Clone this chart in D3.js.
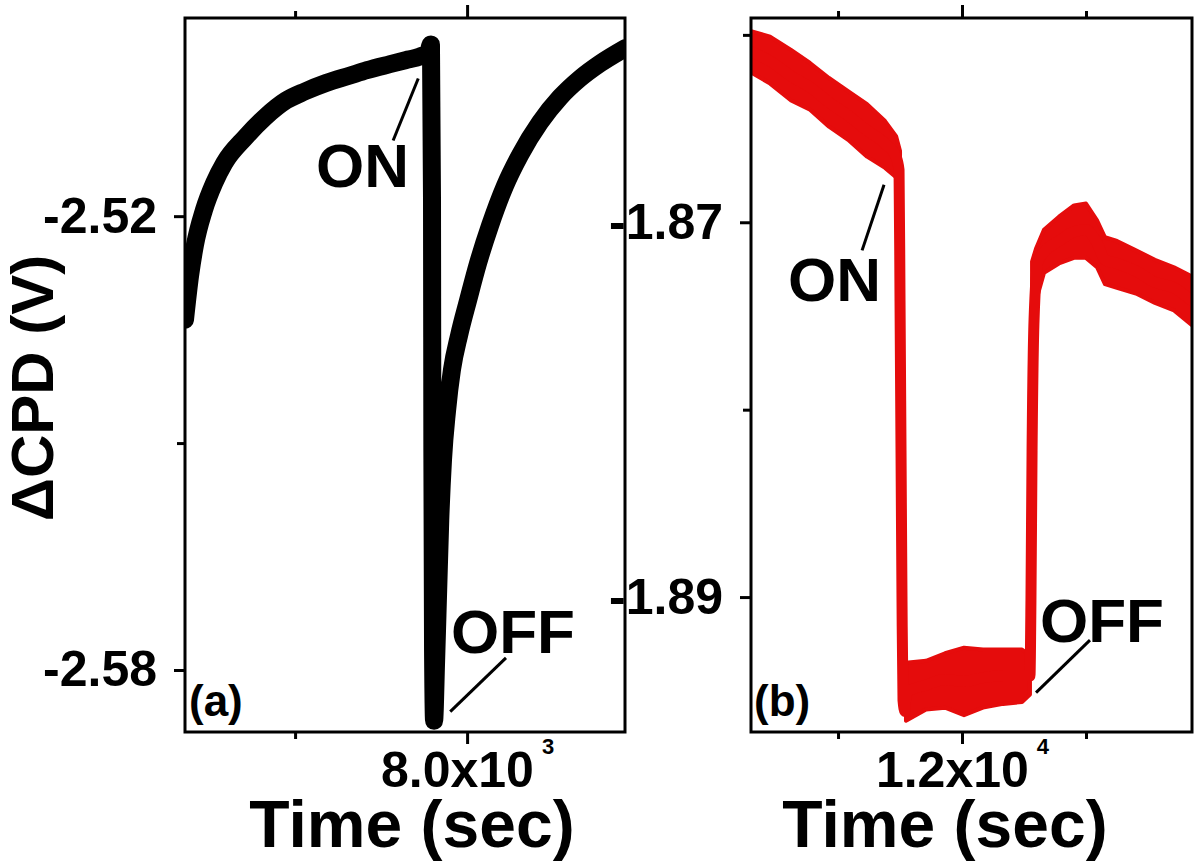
<!DOCTYPE html>
<html>
<head>
<meta charset="utf-8">
<title>CPD light on / off</title>
<script src="https://d3js.org/d3.v7.min.js"></script>
<style>
  body { margin: 0; background: #fff; }
  svg { display: block; font-family: "Liberation Sans", Arial, sans-serif; font-weight: bold; }
  .frame { fill: none; stroke: #000; stroke-width: 3; }
  .tick line { stroke: #000; stroke-width: 3; }
  .tick text { font-size: 50px; fill: #000; font-weight: bold; }
  .note { font-size: 62px; }
  .title { font-size: 66px; }
  .tag { font-size: 44px; }
  .pointer { stroke: #000; stroke-width: 3; }
</style>
</head>
<body>
<div id="chart"></div>
<script>
// panel (a): dCPD trace, time in s, potential in V
const timeA = [7180, 7195, 7209, 7235, 7265, 7294, 7355, 7413, 7474, 7529,
               7590, 7660, 7709, 7776, 7828, 7863, 7887, 7895, 7898, 7899,
               7901, 7904, 7910, 7916, 7922, 7930, 7942, 7956, 7977, 8003,
               8032, 8067, 8110, 8154, 8212, 8270, 8328, 8387, 8459];
const cpdA  = [-2.5337, -2.5278, -2.5238, -2.5192, -2.5156, -2.5130, -2.5096, -2.5069, -2.5047, -2.5035,
               -2.5024, -2.5014, -2.5007, -2.4999, -2.4993, -2.4989, -2.4983, -2.4973, -2.5179, -2.5509,
               -2.5774, -2.5867, -2.5787, -2.5694, -2.5602, -2.5522, -2.5456, -2.5403, -2.5357, -2.5311,
               -2.5262, -2.5212, -2.5160, -2.5119, -2.5076, -2.5043, -2.5018, -2.4998, -2.4978];

// panel (b): mean trace
const timeB = [10298, 10452, 10621, 10774, 10927, 11081, 11234, 11379, 11468, 11492,
               11500, 11508, 11516, 11524, 11540, 11548, 11710, 11863, 12016, 12169,
               12331, 12484, 12548, 12556, 12565, 12581, 12613, 12661, 12782, 12903,
               13000, 13089, 13153, 13250, 13403, 13556, 13710, 13855];
const cpdB  = [-1.8609, -1.8614, -1.8622, -1.8628, -1.8636, -1.8643, -1.8651, -1.8658, -1.8665, -1.8672,
               -1.8742, -1.8822, -1.8902, -1.8955, -1.8961, -1.8951, -1.8947, -1.8944, -1.8945, -1.8943,
               -1.8942, -1.8942, -1.8942, -1.8902, -1.8822, -1.8752, -1.8721, -1.8716, -1.8710, -1.8705,
               -1.8704, -1.8711, -1.8720, -1.8722, -1.8726, -1.8732, -1.8735, -1.8742];

// panel (b): noise envelope (null = gap)
const noiseT  = [10298, 10452, 10621, 10774, 10927, 11081, 11234, 11379, 11468, 11500, null,
                 11548, 11710, 11863, 12016, 12169, 12331, 12484, 12548, null,
                 12565, 12597, 12661, 12782, 12903, 13000, 13089, 13153, 13250, 13403, 13556, 13710, 13855];
const noiseHi = [-1.8598, -1.8601, -1.8608, -1.8615, -1.8623, -1.8630, -1.8637, -1.8646, -1.8654, -1.8662, null,
                 -1.8935, -1.8934, -1.8930, -1.8927, -1.8928, -1.8928, -1.8928, -1.8931, null,
                 -1.8721, -1.8714, -1.8704, -1.8697, -1.8691, -1.8690, -1.8699, -1.8708, -1.8710, -1.8715, -1.8720, -1.8724, -1.8729];
const noiseLo = [-1.8620, -1.8626, -1.8635, -1.8640, -1.8649, -1.8656, -1.8665, -1.8671, -1.8676, -1.8678, null,
                 -1.8966, -1.8960, -1.8959, -1.8963, -1.8959, -1.8957, -1.8956, -1.8952, null,
                 -1.8752, -1.8742, -1.8727, -1.8722, -1.8719, -1.8719, -1.8724, -1.8733, -1.8735, -1.8738, -1.8743, -1.8747, -1.8755];

// ticks
const xMajorA = [8000], xMinorA = [7500];
const yMajorA = [-2.52, -2.58], yMinorA = [-2.55];
const xMajorB = [12000], xMinorB = [11000, 13000];
const yMajorB = [-1.87, -1.89], yMinorB = [-1.86, -1.88];

const W = 1200, H = 863;
const plotTop = 18, plotBottom = 732;

const svg = d3.select("#chart").append("svg")
    .attr("width", W)
    .attr("height", H);

const xA = d3.scaleLinear().domain([7180, 8459]).range([185, 625]);
const yA = d3.scaleLinear().domain([-2.5882, -2.4938]).range([plotBottom, plotTop]);
const xB = d3.scaleLinear().domain([10298, 13855]).range([751, 1192]);
const yB = d3.scaleLinear().domain([-1.8972, -1.8591]).range([plotBottom, plotTop]);

function clip(x, id) {
    const [x0, x1] = x.range();
    svg.append("clipPath").attr("id", id)
        .append("rect").attr("x", x0).attr("y", plotTop)
        .attr("width", x1 - x0).attr("height", plotBottom - plotTop);
}

function axes(x, y, xMajor, xMinor, yMajor, yMinor, xLabel) {
    const [x0, x1] = x.range();
    // bottom
    const gb = svg.append("g").attr("transform", `translate(0,${plotBottom})`);
    gb.append("g").call(d3.axisBottom(x).tickValues(xMinor).tickSize(7).tickFormat(""));
    const gbm = gb.append("g").call(d3.axisBottom(x).tickValues(xMajor).tickSize(12).tickFormat(""));
    gbm.selectAll(".tick text").remove();
    gbm.selectAll(".tick").append("text")
        .attr("y", 55)
        .attr("text-anchor", "middle")
        .each(function (d) {
            const lab = xLabel(d);
            const t = d3.select(this);
            t.append("tspan").text(lab[0]);
            t.append("tspan").attr("dx", 8).attr("dy", -33).style("font-size", "22px").text(lab[1]);
        });
    // top
    const gt = svg.append("g").attr("transform", `translate(0,${plotTop})`);
    gt.append("g").call(d3.axisTop(x).tickValues(xMinor).tickSize(7).tickFormat(""));
    gt.append("g").call(d3.axisTop(x).tickValues(xMajor).tickSize(13).tickFormat(""));
    // left
    const gl = svg.append("g").attr("transform", `translate(${x0},0)`);
    gl.append("g").call(d3.axisLeft(y).tickValues(yMinor).tickSize(8).tickFormat(""));
    gl.append("g").call(d3.axisLeft(y).tickValues(yMajor).tickSize(11).tickPadding(17)
        .tickFormat(d => d.toFixed(2)));
    svg.selectAll(".domain").remove();
    svg.append("rect").attr("class", "frame")
        .attr("x", x0).attr("y", plotTop).attr("width", x1 - x0).attr("height", plotBottom - plotTop);
}

clip(xA, "clipA");
clip(xB, "clipB");

// panel (a) trace
const lineA = d3.line().x((d, i) => xA(timeA[i])).y(d => yA(d)).curve(d3.curveMonotoneX);
svg.append("path")
    .attr("clip-path", "url(#clipA)")
    .attr("d", lineA(cpdA))
    .attr("fill", "none")
    .attr("stroke", "#000")
    .attr("stroke-width", 18)
    .attr("stroke-linejoin", "round")
    .attr("stroke-linecap", "round");

// panel (b) noise band + trace
const red = "#e50c0c";
const bandB = d3.area()
    .defined((d, i) => noiseT[i] !== null)
    .x((d, i) => xB(noiseT[i]))
    .y0((d, i) => yB(noiseLo[i]))
    .y1((d, i) => yB(noiseHi[i]));
svg.append("path")
    .attr("clip-path", "url(#clipB)")
    .attr("d", bandB(noiseT))
    .attr("fill", red)
    .attr("stroke", red)
    .attr("stroke-width", 4)
    .attr("stroke-linejoin", "round");

const lineB = d3.line().x((d, i) => xB(timeB[i])).y(d => yB(d)).curve(d3.curveMonotoneX);
svg.append("path")
    .attr("clip-path", "url(#clipB)")
    .attr("d", lineB(cpdB))
    .attr("fill", "none")
    .attr("stroke", red)
    .attr("stroke-width", 11)
    .attr("stroke-linejoin", "round")
    .attr("stroke-linecap", "round");

axes(xA, yA, xMajorA, xMinorA, yMajorA, yMinorA, d => [(d / 1000).toFixed(1) + "x10", "3"]);
axes(xB, yB, xMajorB, xMinorB, yMajorB, yMinorB, d => [(d / 10000).toFixed(1) + "x10", "4"]);

// annotations (data coordinates)
const notesA = [
    { text: "ON",  t: 7561, v: -2.5162, from: [7858, -2.5018], to: [7785, -2.5100] },
    { text: "OFF", t: 7953, v: -2.5777, from: [8113, -2.5784], to: [7951, -2.5855] }
];
const notesB = [
    { text: "ON",  t: 10597, v: -1.8742, from: [11371, -1.8680], to: [11194, -1.8715] },
    { text: "OFF", t: 12629, v: -1.8924, from: [13032, -1.8923], to: [12597, -1.8951] }
];

function notes(list, x, y) {
    list.forEach(n => {
        svg.append("line").attr("class", "pointer")
            .attr("x1", x(n.from[0])).attr("y1", y(n.from[1]))
            .attr("x2", x(n.to[0])).attr("y2", y(n.to[1]));
        svg.append("text").attr("class", "note")
            .attr("x", x(n.t)).attr("y", y(n.v))
            .text(n.text);
    });
}
notes(notesA, xA, yA);
notes(notesB, xB, yB);

svg.append("text").attr("class", "tag").attr("x", 189).attr("y", 716).text("(a)");
svg.append("text").attr("class", "tag").attr("x", 754).attr("y", 716).text("(b)");

// axis titles
svg.append("text").attr("class", "title")
    .attr("x", 412).attr("y", 847).attr("text-anchor", "middle").text("Time (sec)");
svg.append("text").attr("class", "title")
    .attr("x", 945).attr("y", 847).attr("text-anchor", "middle").text("Time (sec)");
svg.append("text").attr("class", "title")
    .attr("transform", "translate(53,388) rotate(-90)")
    .attr("text-anchor", "middle")
    .style("font-size", "60px")
    .text("ΔCPD (V)");
</script>
</body>
</html>
